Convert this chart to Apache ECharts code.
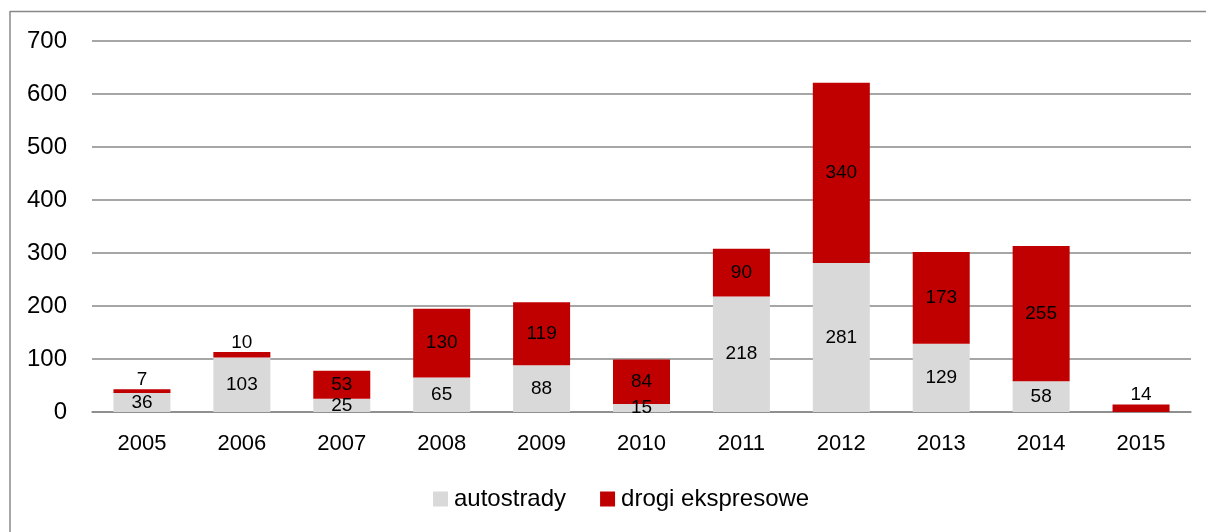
<!DOCTYPE html>
<html>
<head>
<meta charset="utf-8">
<title>Autostrady i drogi ekspresowe</title>
<script src="https://cdn.jsdelivr.net/npm/echarts@6/dist/echarts.min.js"></script>
<style>
  html, body { margin: 0; padding: 0; background: #ffffff; }
  #chart { width: 1206px; height: 532px; }
</style>
</head>
<body>
<div id="chart"></div>
<script>
// Kilometres opened per year
const years = ['2005', '2006', '2007', '2008', '2009', '2010', '2011', '2012', '2013', '2014', '2015'];
const autostrady = [36, 103, 25, 65, 88, 15, 218, 281, 129, 58, 0];
const drogiEkspresowe = [7, 10, 53, 130, 119, 84, 90, 340, 173, 255, 14];
const seriesNames = ['autostrady', 'drogi ekspresowe'];
const yTicks = { min: 0, max: 700, interval: 100 };

const FONT = '"Liberation Sans", Arial, sans-serif';
const GREY = '#d9d9d9';
const RED = '#c00000';

// Thin segments get their label placed just above the bar
const redData = drogiEkspresowe.map(v => v < 20
  ? { value: v, label: { position: 'top', distance: 0 } }
  : v);

const chart = echarts.init(document.getElementById('chart'), null, { renderer: 'canvas' });

chart.setOption({
  animation: false,
  backgroundColor: '#ffffff',
  textStyle: { fontFamily: FONT },
  grid: { left: 92, right: 15, top: 41, bottom: 120, containLabel: false },
  graphic: [
    { type: 'line', shape: { x1: 10, y1: 11.5, x2: 1206, y2: 11.5 }, style: { stroke: '#888888', lineWidth: 1.5 } },
    { type: 'line', shape: { x1: 10, y1: 11, x2: 10, y2: 532 }, style: { stroke: '#888888', lineWidth: 1.5 } }
  ],
  legend: {
    data: seriesNames,
    left: 428,
    top: 482,
    itemWidth: 15,
    itemHeight: 15,
    itemGap: 34,
    icon: 'rect',
    textStyle: { fontFamily: FONT, fontSize: 24, color: '#000000', padding: [0, 0, 0, 1] }
  },
  xAxis: {
    type: 'category',
    data: years,
    axisLine: { show: true, lineStyle: { color: '#888888', width: 1.5 } },
    axisTick: { show: false },
    axisLabel: { fontFamily: FONT, fontSize: 22, color: '#000000', margin: 21 }
  },
  yAxis: {
    type: 'value',
    min: yTicks.min,
    max: yTicks.max,
    interval: yTicks.interval,
    axisLine: { show: false },
    axisTick: { show: false },
    splitLine: { lineStyle: { color: '#888888', width: 1.5 } },
    axisLabel: { fontFamily: FONT, fontSize: 24, color: '#000000', margin: 25 }
  },
  series: [
    {
      name: seriesNames[0],
      type: 'bar',
      stack: 'total',
      barWidth: 57,
      data: autostrady,
      itemStyle: { color: GREY },
      label: {
        show: true,
        position: 'inside',
        fontFamily: FONT,
        fontSize: 19,
        color: '#000000',
        formatter: p => (p.value ? String(p.value) : '')
      }
    },
    {
      name: seriesNames[1],
      type: 'bar',
      stack: 'total',
      barWidth: 57,
      data: redData,
      itemStyle: { color: RED },
      label: {
        show: true,
        position: 'inside',
        fontFamily: FONT,
        fontSize: 19,
        color: '#000000',
        formatter: p => String(p.value)
      }
    }
  ]
});
</script>
</body>
</html>
